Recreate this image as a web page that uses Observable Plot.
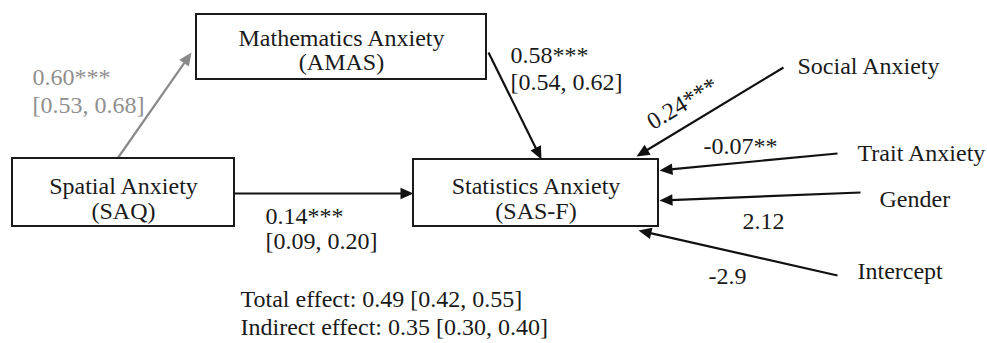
<!DOCTYPE html>
<html>
<head>
<meta charset="utf-8">
<script src="https://cdn.jsdelivr.net/npm/d3@7"></script>
<script src="https://cdn.jsdelivr.net/npm/@observablehq/plot@0.6"></script>
<style>
  html, body { margin: 0; padding: 0; background: #fff; }
  #chart svg { display: block; }
</style>
</head>
<body>
<div id="chart"></div>
<script>
// ---------- data ----------
const nodeNames = ["Mathematics Anxiety", "Spatial Anxiety", "Statistics Anxiety"];
const nodeCodes = ["(AMAS)", "(SAQ)", "(SAS-F)"];
const pathEstimates = ["0.60***", "0.58***", "0.14***"];
const pathCIs = ["[0.53, 0.68]", "[0.54, 0.62]", "[0.09, 0.20]"];
const covariateNames = ["Social Anxiety", "Trait Anxiety", "Gender", "Intercept"];
const covariateEstimates = ["0.24***", "-0.07**", "2.12", "-2.9"];
const effectNames = ["Total effect", "Indirect effect"];
const effectValues = ["0.49", "0.35"];
const effectCIs = ["[0.42, 0.55]", "[0.30, 0.40]"];

// ---------- layout (diagram coordinates) ----------
const W = 987, H = 343;
const nodeBoxes = [[196, 14, 486, 79], [12, 158, 234, 226], [413, 159, 658, 226]];
const nodeBaselines = [[45, 69], [193, 218], [193, 218]];
const pathArrows = [[117, 158, 191, 52], [488, 52, 541, 159], [234, 193, 413, 193]];
const pathLabelPos = [[32, 84, 112], [510, 62, 89], [265, 223, 248]];
const pathColors = ["#8a8a8a", "#111", "#111"];
const covArrows = [[783, 67, 636, 156], [837, 153, 659, 170], [860, 192, 659, 200], [837, 275, 638, 230]];
const covNamePos = [[797, 73], [857, 160], [879, 206], [857, 278]];
const covEstPos = [[682, 103, -31], [703, 153, 0], [742, 228, 0], [708, 283, 0]];
const effectPos = [240, 306, 334];

// ---------- build tables ----------
const boxes = nodeBoxes.map(([x1, y1, x2, y2], i) => ({x1, y1, x2, y2, name: nodeNames[i], code: nodeCodes[i]}));
const nodeText = boxes.flatMap((b, i) => [
  {x: (b.x1 + b.x2) / 2, y: nodeBaselines[i][0], t: b.name},
  {x: (b.x1 + b.x2) / 2, y: nodeBaselines[i][1], t: b.code}
]);
const headLen = 13, headHalf = 5.8;
const arrows = [
  ...pathArrows.map((a, i) => ({a, color: pathColors[i]})),
  ...covArrows.map(a => ({a, color: "#111"}))
].map(({a: [x1, y1, x2, y2], color}) => {
  const ang = Math.atan2(y2 - y1, x2 - x1);
  const back = headLen - 2;
  return {
    x1, y1, x2, y2, color,
    lx: x2 - back * Math.cos(ang), ly: y2 - back * Math.sin(ang),
    rot: ang * 180 / Math.PI + 90
  };
});
// filled arrowhead symbol: tip at the origin, pointing up (rotated by the dot's rotate channel)
const arrowHead = {
  draw(context) {
    context.moveTo(0, 0);
    context.lineTo(headHalf, headLen);
    context.lineTo(-headHalf, headLen);
    context.closePath();
  }
};
const pathText = pathLabelPos.flatMap(([x, y1, y2], i) => {
  const color = i === 0 ? "#8f8f8f" : "#1a1a1a";
  return [{x, y: y1, t: pathEstimates[i], color}, {x, y: y2, t: pathCIs[i], color}];
});
const covText = covariateNames.map((t, i) => ({x: covNamePos[i][0], y: covNamePos[i][1], t}));
const covEst = covariateEstimates.map((t, i) => ({x: covEstPos[i][0], y: covEstPos[i][1], rot: covEstPos[i][2], t}));
const effectText = effectNames.map((n, i) => ({x: effectPos[0], y: effectPos[1 + i], t: `${n}: ${effectValues[i]} ${effectCIs[i]}`}));

const font = {fontFamily: "'Liberation Serif', 'Times New Roman', serif", fontSize: 24};

const chart = Plot.plot({
  width: W,
  height: H,
  margin: 0,
  x: {domain: [0, W], range: [0, W], axis: null},
  y: {domain: [0, H], range: [0, H], axis: null},
  style: {background: "#fff", fontFamily: "'Liberation Serif', serif"},
  marks: [
    Plot.link(arrows, {x1: "x1", y1: "y1", x2: "lx", y2: "ly", stroke: d => d.color, strokeWidth: 2.2}),
    Plot.dot(arrows, {x: "x2", y: "y2", symbol: arrowHead, rotate: "rot", fill: d => d.color, stroke: null, r: 5}),
    Plot.rect(boxes, {x1: "x1", y1: "y1", x2: "x2", y2: "y2", fill: "white", stroke: "#1a1a1a", strokeWidth: 2}),
    Plot.text(nodeText, {x: "x", y: "y", text: "t", textAnchor: "middle", lineAnchor: "bottom", fill: "#1a1a1a", ...font}),
    Plot.text(pathText, {x: "x", y: "y", text: "t", textAnchor: "start", lineAnchor: "bottom", fill: d => d.color, ...font}),
    Plot.text(covText, {x: "x", y: "y", text: "t", textAnchor: "start", lineAnchor: "bottom", fill: "#1a1a1a", ...font}),
    Plot.text(covEst.filter(d => d.rot === 0), {x: "x", y: "y", text: "t", textAnchor: "start", lineAnchor: "bottom", fill: "#1a1a1a", ...font}),
    Plot.text(covEst.filter(d => d.rot !== 0), {x: "x", y: "y", text: "t", rotate: -31, textAnchor: "middle", lineAnchor: "middle", fill: "#1a1a1a", ...font}),
    Plot.text(effectText, {x: "x", y: "y", text: "t", textAnchor: "start", lineAnchor: "bottom", fill: "#1a1a1a", ...font})
  ]
});
document.getElementById("chart").appendChild(chart);
</script>
</body>
</html>
